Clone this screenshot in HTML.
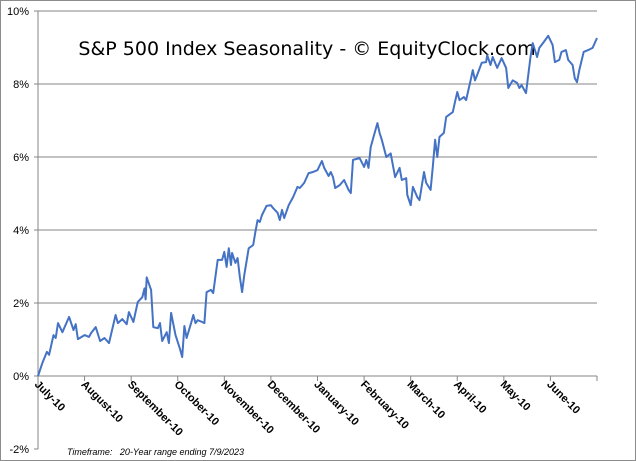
<!DOCTYPE html>
<html><head><meta charset="utf-8"><style>
html,body{margin:0;padding:0;background:#fff;}
svg{display:block;font-family:"Liberation Sans",sans-serif;}
</style></head><body>
<svg id="chart" width="636" height="461" viewBox="0 0 636 461" xmlns="http://www.w3.org/2000/svg">
<rect x="0.5" y="0.5" width="635" height="460" fill="#fff" stroke="#8c8c8c"/>
<g id="grid"></g>
<g id="axes"></g>
<text x="307" y="55" text-anchor="middle" font-size="19" fill="#000" style="font-family:'DejaVu Sans',sans-serif">S&amp;P 500 Index Seasonality - © EquityClock.com</text>
<g id="series"></g>
<text x="67" y="455" font-size="9" font-style="italic" fill="#000" xml:space="preserve">Timeframe:   20-Year range ending 7/9/2023</text>
</svg>
<script>
const months = ["July-10","August-10","September-10","October-10","November-10","December-10","January-10","February-10","March-10","April-10","May-10","June-10"];
const yTicks = [-2,0,2,4,6,8,10];
const days = [0,2,4,5,7,8,9,11,14,16,17,18,21,23,24,26,28,30,32,35,36,38,40,41,43,45,47,48,48.5,49,51,52,54,55,56,58,59,60,62,64,65,66,67,69,70,71,72,74,75,76,78,79,81,83,84,85,86,87,87.5,89,90,91,92,93,95,97,98,99,100,101,103,105,106,108,109,110,111,113,115,117,118,120,122,124,126,128,129,131,132,133,134,136,138,140,141,142,145,147,148,149,150,153,154,155,157,159,161,163,164,166,166.5,168,169,171,172,174,175,177,178,179,180,181,183,184,187,188,189,190,192,193,195,196,197,198,200,202,202.5,204,205,207,209,211,212,214,216,217,218,220,222,223,225,226,228,230,232,233,235,236,238,239,241,242,243,244,246,248,250,252];
const values = [0,0.36,0.66,0.58,1.12,1.04,1.45,1.2,1.62,1.26,1.42,1.01,1.12,1.07,1.18,1.34,0.96,1.04,0.9,1.67,1.45,1.56,1.42,1.75,1.48,2.03,2.16,2.4,2.1,2.7,2.36,1.34,1.31,1.45,0.96,1.2,0.9,1.73,1.12,0.74,0.52,1.37,1.04,1.45,1.67,1.45,1.53,1.48,1.45,2.3,2.36,2.27,3.18,3.18,3.4,2.99,3.5,3.04,3.37,3.1,3.23,2.7,2.3,2.77,3.5,3.59,3.95,4.27,4.22,4.41,4.66,4.68,4.6,4.47,4.27,4.55,4.33,4.68,4.9,5.18,5.15,5.29,5.56,5.59,5.64,5.89,5.7,5.48,5.59,5.45,5.15,5.23,5.37,5.1,5.01,5.92,5.97,5.73,5.92,5.7,6.27,6.93,6.66,6.47,6.0,6.1,5.45,5.7,5.37,5.42,4.96,4.68,5.18,4.9,4.82,5.59,5.29,5.1,5.73,6.47,6.0,6.55,6.66,7.1,7.23,7.51,7.78,7.56,7.64,7.56,8.1,8.38,8.1,8.25,8.58,8.6,8.79,8.52,8.74,8.44,8.71,8.44,7.89,8.1,8.03,7.89,7.97,7.75,8.74,9.12,8.74,8.99,9.15,9.32,9.07,8.6,8.66,8.88,8.93,8.66,8.52,8.16,8.05,8.38,8.88,8.93,8.99,9.26];

const NS="http://www.w3.org/2000/svg";
const X0=38,X1=597,Y0=376,PPU=36.5,DMAX=252;
const xs=d=>X0+d/DMAX*(X1-X0);
const ys=v=>Y0-v*PPU;
function mk(tag,attrs,parent){const e=document.createElementNS(NS,tag);for(const k in attrs)e.setAttribute(k,attrs[k]);parent.appendChild(e);return e;}
const grid=document.getElementById('grid'),axes=document.getElementById('axes'),series=document.getElementById('series');
yTicks.forEach(v=>{
  const y=ys(v);
  if(v>0){const l=mk('line',{x1:X0,x2:X1,y1:y,y2:y,stroke:'#868686','stroke-width':1},grid);
  
  }
  const tk=mk('line',{x1:X0-4,x2:X0,y1:y,y2:y,stroke:'#868686'},axes);
  
  
  const t=mk('text',{x:X0-9,y:y+4,'text-anchor':'end','font-size':11,fill:'#000'},axes);
  t.textContent=v+'%';
  
  
});
const ya=mk('line',{x1:X0,x2:X0,y1:ys(10),y2:ys(-2),stroke:'#868686'},axes);


const xa=mk('line',{x1:X0,x2:X1,y1:Y0,y2:Y0,stroke:'#868686'},axes);


const step=(X1-X0)/months.length;
for(let i=0;i<=months.length;i++){
  const x=X0+i*step;
  const tk=mk('line',{x1:x,x2:x,y1:Y0,y2:Y0+5,stroke:'#868686'},axes);
  
  
}
months.forEach((m,i)=>{
  const x=X0+i*step;
  const t=mk('text',{x:0,y:0,'font-size':11,'font-weight':'bold',fill:'#000',transform:`translate(${x-4},${Y0+9}) rotate(45)`},axes);
  t.textContent=m;
  
  
});
const d=days.map((dd,i)=>(i?'L':'M')+xs(dd).toFixed(1)+','+ys(values[i]).toFixed(1)).join(' ');
const p=mk('path',{d:d,fill:'none',stroke:'#4472c4','stroke-width':2,'stroke-linejoin':'round'},series);


</script>
</body></html>
